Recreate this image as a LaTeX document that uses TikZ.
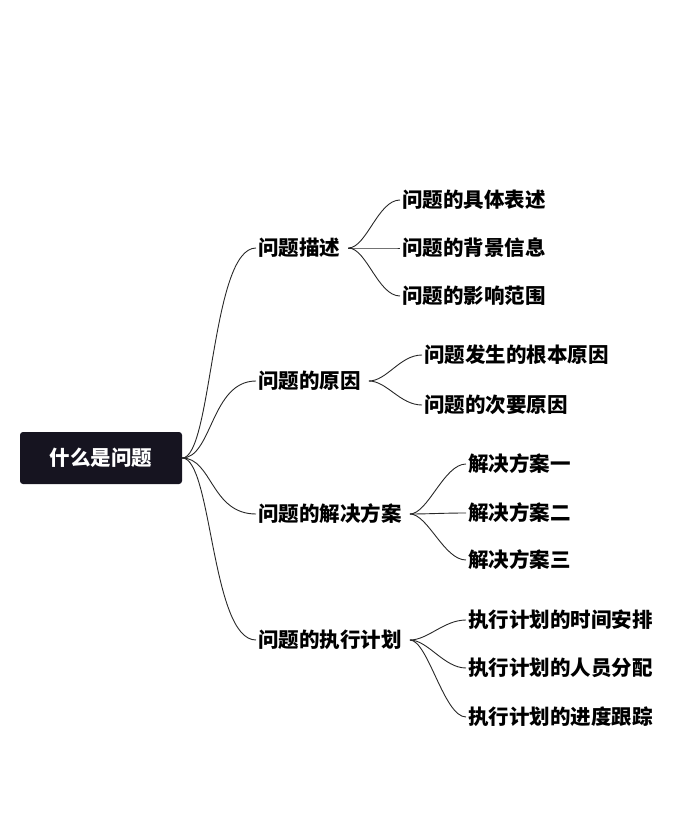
\documentclass[tikz,border=0pt]{standalone}
\usepackage{fontspec}
\setmainfont{Noto Sans CJK SC}
\usetikzlibrary{positioning, calc}
\definecolor{rootDark}{RGB}{22, 20, 32}
\definecolor{lineGray}{RGB}{40, 40, 40}

\begin{document}
\begin{tikzpicture}[x=1pt, y=-1pt,
        topic/.style={anchor=west, inner sep=2pt, font=\fontsize{20.5}{24}\selectfont\bfseries},
        rootbox/.style={rectangle, rounded corners=3pt, fill=rootDark, text=white, minimum width=162pt, minimum height=52pt, font=\fontsize{20.5}{24}\selectfont\bfseries},
        link/.style={lineGray, line width=0.9pt}
    ]
        \useasboundingbox (0,0) rectangle (690,826);
        % Root
        \node[rootbox] (root) at (101,458) {什么是问题};

        % First level
        \node[topic] (desc) at (256,248) {问题描述};
        \node[topic] (cause) at (256,381) {问题的原因};
        \node[topic] (solve) at (256,514) {问题的解决方案};
        \node[topic] (plan) at (256,640) {问题的执行计划};

        % Second level
        \node[topic] (d1) at (400,200) {问题的具体表述};
        \node[topic] (d2) at (400,248) {问题的背景信息};
        \node[topic] (d3) at (400,296) {问题的影响范围};
        \node[topic] (c1) at (422,355) {问题发生的根本原因};
        \node[topic] (c2) at (422,405) {问题的次要原因};
        \node[topic] (s1) at (466,464) {解决方案一};
        \node[topic] (s2) at (466,513) {解决方案二};
        \node[topic] (s3) at (466,560) {解决方案三};
        \node[topic] (p1) at (466,620) {执行计划的时间安排};
        \node[topic] (p2) at (466,668) {执行计划的人员分配};
        \node[topic] (p3) at (466,717) {执行计划的进度跟踪};

        % Root links
        \foreach \t in {desc, cause, solve, plan}
            \draw[link] (root.east) .. controls ($(root.east)+(30,0)$) and ($(\t.west)+(-45,0)$) .. (\t.west);

        % Brace links
        \foreach \s/\t in {desc/d1, desc/d2, desc/d3, cause/c1, cause/c2,
                           solve/s1, solve/s2, solve/s3, plan/p1, plan/p2, plan/p3}
            \draw[link] ($(\s.east)+(6,0)$) .. controls ($(\s.east)+(24,0)$) and ($(\t.west)+(-22,0)$) .. (\t.west);
    \end{tikzpicture}
\end{document}
